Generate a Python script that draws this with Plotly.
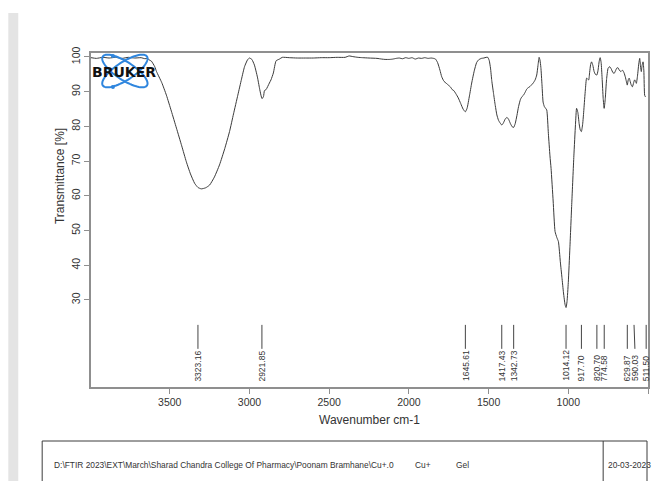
import math
import plotly.graph_objects as go

# FTIR spectrum (wavenumber in cm-1, transmittance in %)
wavenumber = [
    3994, 3960, 3920, 3880, 3840, 3800, 3760, 3720, 3680, 3655, 3640, 3630,
    3615, 3594, 3583, 3550, 3521, 3490, 3458, 3425, 3396, 3370, 3344, 3323,
    3302, 3275, 3250, 3220, 3188, 3155, 3125, 3100, 3073, 3050, 3031, 3012,
    3000, 2985, 2969, 2950, 2937, 2928, 2921, 2912, 2906, 2896, 2875, 2865,
    2850, 2833, 2812, 2794, 2750, 2700, 2650, 2600, 2550, 2500, 2450, 2400,
    2375, 2350, 2320, 2290, 2250, 2200, 2170, 2150, 2120, 2100, 2080, 2060,
    2040, 2020, 2000, 1980, 1960, 1940, 1920, 1900, 1880, 1860, 1845, 1833,
    1820, 1805, 1794, 1780, 1765, 1750, 1740, 1728, 1718, 1705, 1690, 1675,
    1660, 1646, 1635, 1620, 1606, 1590, 1575, 1562, 1545, 1530, 1515, 1505,
    1496, 1488, 1480, 1469, 1458, 1448, 1438, 1428, 1417, 1407, 1397, 1385,
    1374, 1363, 1352, 1343, 1333, 1322, 1312, 1300, 1290, 1281, 1270, 1260,
    1250, 1240, 1230, 1220, 1208, 1198, 1190, 1183, 1178, 1172, 1165, 1158,
    1150, 1142, 1135, 1125, 1115, 1108, 1095, 1083, 1072, 1062, 1050, 1040,
    1030, 1020, 1014, 1008, 1000, 990, 978, 965, 955, 948, 940, 932, 925,
    918, 910, 902, 893, 885, 878, 872, 866, 860, 854, 846, 838, 830, 821,
    814, 806, 800, 794, 788, 781, 775, 768, 760, 750, 740, 730, 720, 712,
    704, 696, 688, 680, 670, 660, 650, 642, 636, 630, 624, 618, 612, 605,
    598, 590, 584, 578, 573, 566, 558, 552, 547, 542, 537, 531, 526, 521,
    516, 511, 505, 500,
]
transmittance = [
    99.8, 99.6, 99.9, 99.7, 99.9, 99.6, 99.9, 99.7, 99.8, 99.5, 99.6, 99.2,
    98.8, 97.2, 95.8, 92.6, 89.0, 84.4, 79.5, 74.4, 69.8, 66.3, 63.6, 62.4,
    62.0, 62.3, 63.1, 65.4, 68.9, 73.6, 78.5, 83.6, 89.0, 93.6, 97.2, 99.2,
    99.7, 99.3, 97.7, 94.2, 91.0, 89.0, 88.0, 88.6, 90.3, 90.6, 92.5, 93.4,
    95.4, 98.9, 99.4, 99.9, 99.8, 99.7, 99.7, 99.7, 99.8, 99.8, 99.9, 99.9,
    100.3, 100.1, 99.9, 99.8, 99.7, 99.6, 99.4, 99.3, 99.3, 99.4, 99.6, 99.7,
    99.5, 99.8, 99.6, 99.8, 99.4, 99.7, 99.6, 99.8, 99.6, 99.7, 99.6, 99.4,
    98.4, 96.2, 94.3, 93.0, 92.4, 91.8, 91.4, 90.6, 90.3, 89.4, 88.2, 86.6,
    85.0, 84.2, 85.2, 88.8, 92.5, 96.0, 98.4, 99.2, 99.6, 99.7, 99.9, 99.9,
    99.0, 96.8, 93.2, 89.5, 86.0, 83.3, 81.8, 81.0, 80.4, 81.0, 82.0, 82.6,
    82.0, 80.8, 79.9, 79.7, 80.8, 83.2, 85.7, 87.8, 88.6, 89.0, 89.9, 90.8,
    91.2, 91.5, 92.0, 92.5, 93.4, 94.8, 97.6, 99.9, 99.2, 97.0, 92.0, 87.0,
    85.7, 85.2, 84.7, 78.0, 71.5, 67.9, 58.5, 49.7, 48.0, 46.8, 41.0, 36.5,
    32.0, 28.6, 27.8, 29.5, 35.0, 45.0, 58.0, 71.5, 80.5, 85.2, 84.0, 80.8,
    79.0, 78.5, 80.6, 85.0, 90.5, 93.9, 93.6, 93.4, 95.6, 97.8, 98.6, 97.6,
    95.8, 95.0, 94.8, 96.0, 98.8, 99.8, 98.4, 94.0, 88.0, 85.2, 88.0, 93.5,
    96.8, 97.2, 96.5, 95.5, 95.3, 96.0, 96.8, 96.9, 96.2, 95.8, 96.2, 95.4,
    94.2, 93.0, 91.9, 93.4, 93.9, 93.0, 91.9, 91.4, 92.6, 93.4, 93.0, 92.4,
    94.5, 98.0, 99.6, 97.4, 95.8, 97.6, 98.6, 96.0, 89.0, 88.5,
]

# Annotated peak positions and their printed labels
peak_positions = [3323.16, 2921.85, 1645.61, 1417.43, 1342.73, 1014.12,
                  917.70, 820.70, 774.58, 629.87, 590.03, 511.50]
peak_labels = ["3323.16", "2921.85", "1645.61", "1417.43", "1342.73",
               "1014.12", "917.70", "820.70", "774.58", "629.87", "590.03",
               "511.50"]
# where crowded labels get nudged sideways (wavenumber offset of the label)
label_offsets = [0, 0, 0, 0, 0, 0, 0, 0, 0, 0, -8, 0]

x_ticks = [3500, 3000, 2500, 2000, 1500, 1000, 500]
y_ticks = [30, 40, 50, 60, 70, 80, 90, 100]

file_path = ("D:\\FTIR 2023\\EXT\\March\\Sharad Chandra College Of Pharmacy"
             "\\Poonam Bramhane\\Cu+.0")
sample_name = "Cu+"
sample_form = "Gel"
measured_on = "20-03-2023"

FIG_W, FIG_H = 655, 481
L, R, T, B = 91, 5, 53, 94
PW, PH = FIG_W - L - R, FIG_H - T - B
AXIS_GRAY = "#8f8f8f"
TEXT = "#333333"
FONT = "Liberation Sans, Arial, sans-serif"


def px(x):
    return (x - L) / PW


def py(y):
    return (FIG_H - B - y) / PH


fig = go.Figure()
fig.add_trace(go.Scatter(
    x=wavenumber, y=transmittance, mode="lines",
    line=dict(color="#3a3a3a", width=1, shape="spline", smoothing=0.5),
    hoverinfo="skip", showlegend=False,
))

shapes = []
annotations = []

# peak markers: short vertical bar with the value printed underneath
for pos, lab, off in zip(peak_positions, peak_labels, label_offsets):
    shapes.append(dict(type="line", xref="x", yref="y",
                       x0=pos + off * 0.3, x1=pos + off, y0=22.8, y1=15.9,
                       line=dict(color="#444444", width=1)))
    annotations.append(dict(x=pos + off, y=6.0, xref="x", yref="y",
                            text=lab, textangle=-90, showarrow=False,
                            yanchor="bottom", xanchor="center",
                            font=dict(size=8.5, color=TEXT, family=FONT)))

# grey strip at the page edge
shapes.append(dict(type="rect", xref="paper", yref="paper",
                   x0=px(8), x1=px(18), y0=py(485), y1=py(13),
                   fillcolor="#e4e4e4", line=dict(width=0), layer="below"))

# footer table
tbl_line = dict(color="#3c3c3c", width=1)
shapes += [
    dict(type="line", xref="paper", yref="paper", x0=px(42), x1=px(649),
         y0=py(441), y1=py(441), line=tbl_line),
    dict(type="line", xref="paper", yref="paper", x0=px(42), x1=px(42),
         y0=py(441), y1=py(485), line=tbl_line),
    dict(type="line", xref="paper", yref="paper", x0=px(605), x1=px(605),
         y0=py(441), y1=py(485), line=tbl_line),
    dict(type="line", xref="paper", yref="paper", x0=px(649), x1=px(649),
         y0=py(441), y1=py(485), line=tbl_line),
]
foot_font = dict(size=8.4, color=TEXT, family=FONT)
for txt, xpos in [(file_path, 52), (sample_name, 414), (sample_form, 455),
                  (measured_on, 608)]:
    annotations.append(dict(x=px(xpos), y=py(465), xref="paper", yref="paper",
                            text=txt, showarrow=False, xanchor="left",
                            yanchor="middle", font=foot_font))

# Bruker logo: two crossed orbits with electrons and the word mark
cx, cy = 125, 71
for ang in (33, -33):
    a, b = 26.5, 9.0
    th = math.radians(ang)
    pts = []
    for k in range(73):
        t = 2 * math.pi * k / 72
        ex, ey = a * math.cos(t), b * math.sin(t)
        X = cx + ex * math.cos(th) - ey * math.sin(th)
        Y = cy - (ex * math.sin(th) + ey * math.cos(th))
        pts.append((px(X), py(Y)))
    path = "M " + " L ".join(f"{u:.5f},{v:.5f}" for u, v in pts) + " Z"
    shapes.append(dict(type="path", xref="paper", yref="paper", path=path,
                       line=dict(color="#2f86de", width=2), layer="above"))
for ex, ey in [(113, 56), (113, 87)]:
    shapes.append(dict(type="circle", xref="paper", yref="paper",
                       x0=px(ex - 2), x1=px(ex + 2), y0=py(ey + 2),
                       y1=py(ey - 2), fillcolor="#2f86de",
                       line=dict(width=0), layer="above"))
annotations.append(dict(x=px(124), y=py(72), xref="paper", yref="paper",
                        text="<b>BRUKER</b>", showarrow=False,
                        xanchor="center", yanchor="middle",
                        font=dict(size=14, color="#111111",
                                  family="DejaVu Sans, Arial Black")))

# axis titles
annotations.append(dict(x=px(60), y=py(176), xref="paper", yref="paper",
                        text="Transmittance [%]", textangle=-90,
                        showarrow=False, xanchor="center", yanchor="middle",
                        font=dict(size=12, color=TEXT, family=FONT)))
annotations.append(dict(x=px(370), y=py(420), xref="paper", yref="paper",
                        text="Wavenumber cm-1", showarrow=False,
                        xanchor="center", yanchor="middle",
                        font=dict(size=12, color=TEXT, family=FONT)))

fig.update_layout(
    width=FIG_W, height=FIG_H,
    margin=dict(l=L, r=R, t=T, b=B, pad=0),
    paper_bgcolor="white", plot_bgcolor="white",
    font=dict(family=FONT, color=TEXT),
    shapes=shapes, annotations=annotations,
    xaxis=dict(range=[3994, 500], tickvals=x_ticks,
               ticktext=[str(v) for v in x_ticks], showgrid=False,
               zeroline=False, showline=True, mirror=True,
               linecolor=AXIS_GRAY, linewidth=1.5, ticks="outside",
               ticklen=5, tickcolor=AXIS_GRAY,
               tickfont=dict(size=10.5, color=TEXT, family=FONT)),
    yaxis=dict(range=[4.9, 101.15], tickvals=y_ticks,
               ticktext=[str(v) for v in y_ticks], showgrid=False,
               zeroline=False, showline=True, mirror=True,
               linecolor=AXIS_GRAY, linewidth=1.5, ticks="outside",
               ticklen=5, tickcolor=AXIS_GRAY, tickangle=-90,
               tickfont=dict(size=10.5, color=TEXT, family=FONT)),
)

fig.write_html("out.html")
